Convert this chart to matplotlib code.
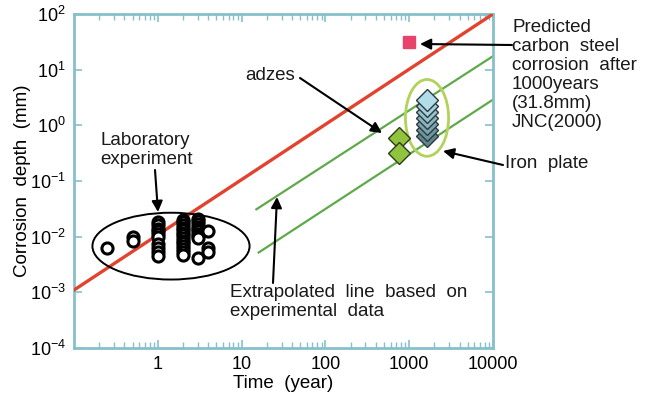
import numpy as np
import matplotlib
matplotlib.use("Agg")
import matplotlib.pyplot as plt
from matplotlib.patches import Ellipse

plt.rcParams['font.family'] = ['Liberation Sans', 'DejaVu Sans']
plt.rcParams['mathtext.default'] = 'regular'

# predicted carbon steel line and the two extrapolated lines (time, depth)
red_t = [0.1, 10000]
red_d = [0.0011, 100]
green_hi_t = [15, 10000]
green_hi_d = [0.031, 17.5]
green_lo_t = [16, 10000]
green_lo_d = [0.0052, 2.9]

# laboratory experiment (open circles)
lab_t = [0.25, 0.5, 0.5,
         1, 1, 1, 1, 1, 1, 1, 1, 1, 1,
         2, 2, 2, 2, 2, 2, 2, 2, 2, 2, 2, 2, 2, 2,
         3, 3, 3, 3, 3, 3, 3, 3, 3, 3,
         4, 4, 4]
lab_d = [0.0062, 0.0098, 0.0085,
         0.0185, 0.016, 0.014, 0.0125, 0.0112, 0.0098, 0.0075, 0.0062, 0.0052, 0.0045,
         0.02, 0.018, 0.016, 0.0145, 0.013, 0.0118, 0.0106, 0.0095, 0.0085, 0.0076,
         0.0068, 0.006, 0.0053, 0.0046,
         0.021, 0.019, 0.017, 0.0152, 0.0138, 0.0125, 0.0113, 0.0102, 0.0093, 0.0042,
         0.0128, 0.0062, 0.0054]

# adzes
adze_t = [750, 750]
adze_d = [0.6, 0.32]

# iron plate (bottom to top)
iron_t = [1650] * 7
iron_d = [0.65, 0.83, 1.06, 1.36, 1.74, 2.23, 2.86]
iron_fc = ['#5f858f', '#6d95a0', '#7aa4b0', '#88b4c0', '#95c3cf', '#a2d1dd', '#b1dde9']

# JNC(2000) prediction
pred_t = [1000]
pred_d = [31.8]

xticks = [1, 10, 100, 1000, 10000]
yticks = [1e-4, 1e-3, 1e-2, 1e-1, 1, 10, 100]
ytick_labels = ['$10^{-4}$', '$10^{-3}$', '$10^{-2}$', '$10^{-1}$', '$10^{0}$', '$10^{1}$', '$10^{2}$']

fig = plt.figure(figsize=(6.51, 3.95), dpi=100)
ax = fig.add_axes([74 / 651, 47 / 395, 419 / 651, 334 / 395])
ax.set_xscale('log')
ax.set_yscale('log')
ax.set_xlim(0.1, 10000)
ax.set_ylim(1e-4, 100)

ax.plot(red_t, red_d, color='#e2432f', lw=2.4, zorder=3)
ax.plot(green_hi_t, green_hi_d, color='#5ea94a', lw=1.6, zorder=2)
ax.plot(green_lo_t, green_lo_d, color='#5ea94a', lw=1.6, zorder=2)

ax.plot(lab_t, lab_d, 'o', ms=8, mfc='white', mec='black', mew=2.2, zorder=4)

ax.plot(adze_t, adze_d, 'D', ms=11, mfc='#8fc43c', mec='#2f3b1c', mew=1.0, zorder=4)
for t, d, c in zip(iron_t, iron_d, iron_fc):
    ax.plot(t, d, 'D', ms=11, mfc=c, mec='#2e3a3d', mew=1.0, zorder=4)
ax.plot(pred_t, pred_d, 's', ms=8, mfc='#e8436a', mec='#e8436a', zorder=4)

ax.add_patch(Ellipse((0.2315, 0.305), 0.375, 0.2, transform=ax.transAxes,
                     fill=False, ec='black', lw=1.4, zorder=3))
ax.add_patch(Ellipse((0.8425, 0.689), 0.103, 0.23, transform=ax.transAxes,
                     fill=False, ec='#b3d25a', lw=2.0, zorder=3))

ax.set_xticks(xticks)
ax.set_xticklabels([str(x) for x in xticks])
ax.set_yticks(yticks)
ax.set_yticklabels(ytick_labels)
ax.yaxis.set_minor_locator(matplotlib.ticker.NullLocator())

spine_c = '#86c0cb'
for s in ax.spines.values():
    s.set_color(spine_c)
    s.set_linewidth(2)
ax.tick_params(which='both', direction='in', top=True, right=True, color=spine_c,
               labelsize=13, pad=6)
ax.tick_params(which='major', length=6, width=1.2)
ax.tick_params(which='minor', length=4, width=1.0)

ax.set_xlabel('Time  (year)', fontsize=13.5, labelpad=1)
ax.set_ylabel('Corrosion  depth  (mm)', fontsize=13.5, labelpad=-1)

fs = 13.5
txt = '#1a1a1a'
fig.text(100, 395 - 150, 'Laboratory\nexperiment', fontsize=fs, linespacing=1.1,
         transform=None, va='center', color=txt)
fig.text(245, 395 - 75, 'adzes', fontsize=fs, transform=None, va='center', color=txt)
fig.text(230, 395 - 302, 'Extrapolated  line  based  on\nexperimental  data', fontsize=fs,
         linespacing=1.1, transform=None, va='center', color=txt)
fig.text(512, 395 - 19, 'Predicted\ncarbon  steel\ncorrosion  after\n1000years\n(31.8mm)\nJNC(2000)',
         fontsize=fs, linespacing=1.16, transform=None, va='top', color=txt)
fig.text(505, 395 - 164, 'Iron  plate', fontsize=fs, transform=None, va='center', color=txt)

arrows = [((155, 170), (158, 212)),
          ((300, 78), (382, 133)),
          ((273, 283), (277, 197)),
          ((512, 45), (420, 44)),
          ((503, 165), (443, 151))]
for (x0, y0), (x1, y1) in arrows:
    ax.annotate('', xy=(x1, 395 - y1), xytext=(x0, 395 - y0),
                xycoords='figure pixels', textcoords='figure pixels',
                arrowprops=dict(arrowstyle='-|>', color='black', lw=1.5,
                                mutation_scale=16, shrinkA=0, shrinkB=0),
                annotation_clip=False)

fig.savefig('out.png', dpi=100)
